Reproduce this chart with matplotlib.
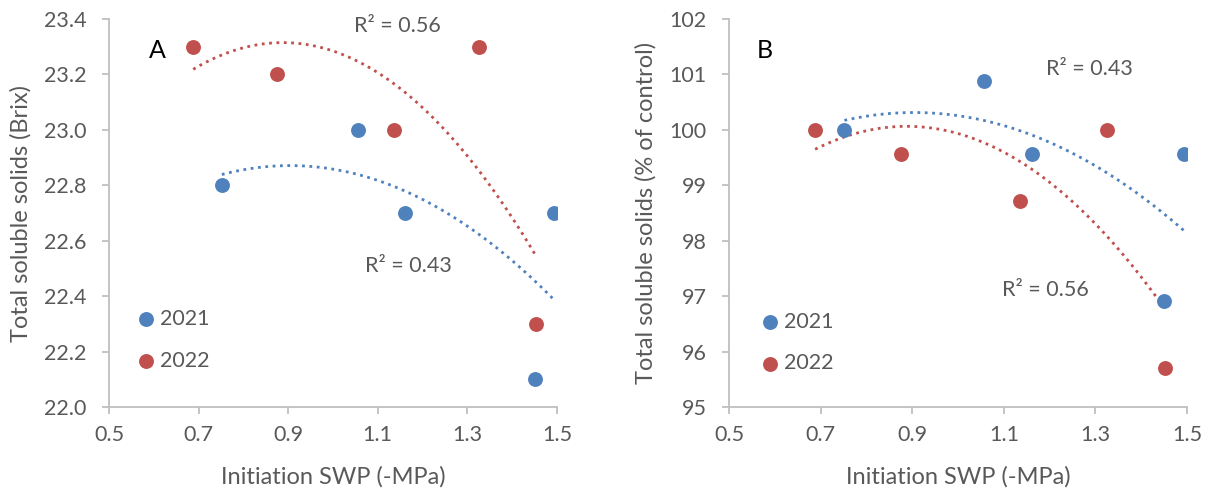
import numpy as np
import matplotlib
matplotlib.use("Agg")
import matplotlib.pyplot as plt
from matplotlib.ticker import FormatStrFormatter

plt.rcParams["font.family"] = ["Lato", "DejaVu Sans"]

# initiation SWP (-MPa), same treatments in both panels
swp_2021 = [0.752, 1.056, 1.161, 1.450, 1.493]
swp_2022 = [0.688, 0.876, 1.136, 1.326, 1.452]

# panel A: Brix
brix_2021 = [22.8, 23.0, 22.7, 22.1, 22.7]
brix_2022 = [23.3, 23.2, 23.0, 23.3, 22.3]

# panel B: % of control
pct_2021 = [100.0, 100.88, 99.56, 96.92, 99.56]
pct_2022 = [100.0, 99.57, 98.71, 100.0, 95.70]

years = ["2021", "2022"]
blue = "#4F81BD"
red = "#C0504D"
grey_txt = "#595959"
grey_ax = "#BFBFBF"

fig = plt.figure(figsize=(12.08, 4.93), dpi=100)
axA = fig.add_axes([0.0902, 0.1744, 0.3709, 0.787])
axB = fig.add_axes([0.6035, 0.1744, 0.3791, 0.787])


def draw_panel(ax, y21, y22, ylim, yticks, yfmt, ylabel, ylab_x, letter, r2_texts, leg_anchor):
    for xs, ys, col, lab in [(swp_2021, y21, blue, years[0]), (swp_2022, y22, red, years[1])]:
        coef = np.polyfit(xs, ys, 2)
        xx = np.linspace(min(xs), max(xs), 100)
        ax.plot(xx, np.polyval(coef, xx), linestyle=":", color=col, lw=2, zorder=2)
        ax.scatter(xs, ys, s=115, color=col, label=lab, zorder=3, linewidths=0)

    ax.set_xlim(0.5, 1.5)
    ax.set_ylim(*ylim)
    ax.set_xticks([0.5, 0.7, 0.9, 1.1, 1.3, 1.5])
    ax.set_yticks(yticks)
    ax.xaxis.set_major_formatter(FormatStrFormatter("%.1f"))
    ax.yaxis.set_major_formatter(FormatStrFormatter(yfmt))

    for s in ["top", "right"]:
        ax.spines[s].set_visible(False)
    for s in ["left", "bottom"]:
        ax.spines[s].set_color(grey_ax)
        ax.spines[s].set_linewidth(1.3)
    ax.tick_params(colors=grey_ax, labelcolor=grey_txt, labelsize=15.5, length=5, width=1.3)
    ax.tick_params(axis="x", pad=8)
    ax.tick_params(axis="y", pad=11)

    ax.set_xlabel("Initiation SWP (-MPa)", fontsize=17, color=grey_txt)
    ax.xaxis.set_label_coords(0.5, -0.18)
    ax.xaxis.label.set_va("center")
    ax.set_ylabel(ylabel, fontsize=17, color=grey_txt)
    ax.yaxis.set_label_coords(ylab_x, 0.5)
    ax.yaxis.label.set_va("center")

    ax.text(letter[0], letter[1], letter[2], fontsize=18, color="black", ha="center", va="center")
    for x, y, t in r2_texts:
        ax.text(x, y, t, fontsize=15.5, color=grey_txt, ha="center", va="center")

    leg = ax.legend(loc="center left", bbox_to_anchor=leg_anchor, frameon=False, fontsize=15.5,
                    handlelength=0.8, handletextpad=0.25, labelspacing=1.0,
                    borderpad=0, borderaxespad=0, scatterpoints=1)
    for t in leg.get_texts():
        t.set_color(grey_txt)


draw_panel(axA, brix_2021, brix_2022, (22.0, 23.4),
           [22.0, 22.2, 22.4, 22.6, 22.8, 23.0, 23.2, 23.4], "%.1f",
           "Total soluble solids (Brix)", -0.196, (0.607, 23.286, "A"),
           [(1.144, 23.376, "R² = 0.56"), (1.168, 22.51, "R² = 0.43")],
           (0.0625, 0.1734))

draw_panel(axB, pct_2021, pct_2022, (95, 102),
           [95, 96, 97, 98, 99, 100, 101, 102], "%d",
           "Total soluble solids (% of control)", -0.181, (0.578, 101.43, "B"),
           [(1.287, 101.1, "R² = 0.43"), (1.19, 97.12, "R² = 0.56")],
           (0.070, 0.1657))

fig.savefig("out.png", dpi=100)
